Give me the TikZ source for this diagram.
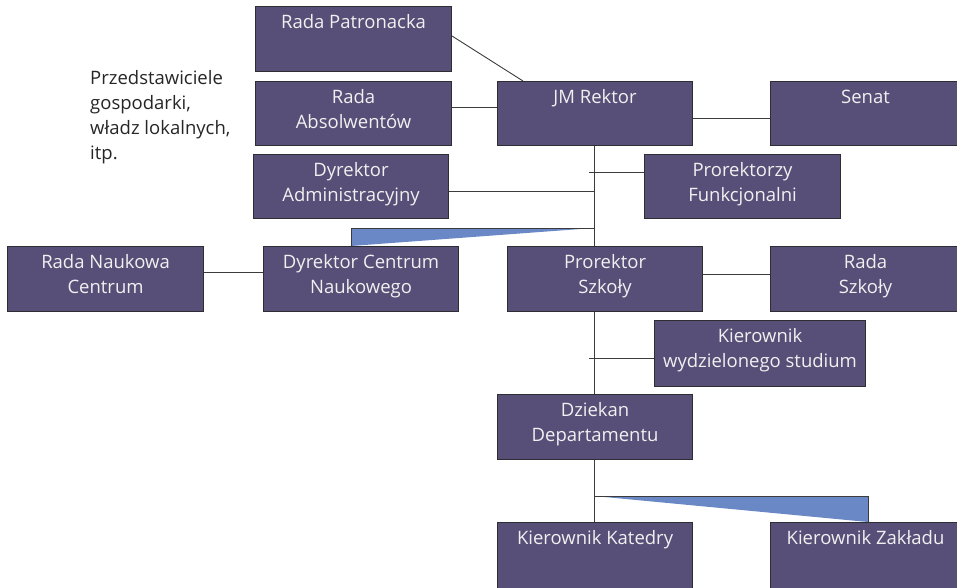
\documentclass[tikz,border=0pt]{standalone}
\usepackage{fontspec}
\setmainfont{Open Sans}
\usetikzlibrary{calc}
\definecolor{boxfill}{RGB}{87,79,119}
\definecolor{boxline}{RGB}{45,45,50}
\definecolor{wedge}{RGB}{106,136,198}
\definecolor{linkcol}{RGB}{60,60,60}
\begin{document}
\begin{tikzpicture}[x=1pt,y=-1pt,
  orgbox/.style={draw=boxline,fill=boxfill,line width=1.1pt,anchor=north west,inner sep=0pt},
  boxtxt/.style={anchor=north,align=center,text=white!94!black,inner sep=0pt,
     font=\fontsize{18.5}{25}\selectfont},
  link/.style={draw=linkcol,line width=0.9pt},
  note/.style={anchor=north west,align=left,inner sep=0pt,text=black!85,
     font=\fontsize{18.5}{25}\selectfont}]
\useasboundingbox (0,0) rectangle (957,588);

% wedge-shaped fills under the branching connectors
\coordinate (wedgeA) at (594,228);
\coordinate (wedgeAL) at (351,228);
\coordinate (wedgeB) at (594,496);
\coordinate (wedgeBR) at (868,496);
\fill[wedge] (wedgeA) -- (wedgeAL) -- (351,246) -- cycle;
\fill[wedge] (wedgeB) -- (wedgeBR) -- (868,522) -- cycle;

% box: name, top-left corner, width, height, text
\newcommand{\orgunit}[6]{%
  \node[orgbox,minimum width=#4pt,minimum height=#5pt] (#1) at (#2,#3) {};
  \node[boxtxt] (#1-t) at ([yshift=-8pt]#1.north) {\vphantom{Ah}#6};}

\orgunit{patron}{255}{6}{196}{65}{Rada Patronacka}
\orgunit{absol}{255}{81}{196}{64}{Rada\\Absolwentów}
\orgunit{rektor}{497}{81}{195}{64}{JM Rektor}
\orgunit{senat}{770}{81}{190}{64}{Senat}
\orgunit{dyradm}{253}{154}{195}{64}{Dyrektor\\Administracyjny}
\orgunit{prorf}{644}{154}{196}{64}{Prorektorzy\\Funkcjonalni}
\orgunit{radanc}{7}{246}{196}{65}{Rada Naukowa\\Centrum}
\orgunit{dyrcn}{263}{246}{195}{65}{Dyrektor Centrum\\Naukowego}
\orgunit{prors}{507}{246}{195}{65}{Prorektor\\Szkoły}
\orgunit{radasz}{770}{246}{190}{65}{Rada\\Szkoły}
\orgunit{kws}{654}{320}{211}{66}{Kierownik\\wydzielonego studium}
\orgunit{dziekan}{497}{394}{195}{65}{Dziekan\\Departamentu}
\orgunit{kkat}{497}{522}{195}{72}{Kierownik Katedry}
\orgunit{kzak}{770}{522}{190}{72}{Kierownik Zakładu}

\node[note] (przed) at (90,70) {\vphantom{Ah}Przedstawiciele\\gospodarki,\\władz lokalnych,\\itp.};

% main vertical line
\coordinate (trunk) at (594,0);
\draw[link] (trunk |- rektor.south) -- (trunk |- prors.north);
\draw[link] (trunk |- prors.south) -- (trunk |- dziekan.north);
\draw[link] (trunk |- dziekan.south) -- (trunk |- kkat.north);

% side branches (yshift is in page units: positive moves a line up)
\draw[link] ([yshift=3pt]patron.east) -- ($(rektor.north west)+(26,0)$);
\draw[link] ([yshift=6pt]absol.east) -- ([yshift=6pt]absol.east -| rektor.west);
\draw[link] ([yshift=-4.5pt]rektor.east) -- ([yshift=-4.5pt]rektor.east -| senat.west);
\draw[link] ([yshift=-5pt]dyradm.east) -- ([yshift=-5pt]dyradm.east -| trunk);
\draw[link] ([yshift=14pt]prorf.west) -- ++(-55,0);
\draw[link] ([yshift=7pt]radanc.east) -- ([yshift=7pt]radanc.east -| dyrcn.west);
\draw[link] ([yshift=5pt]prors.east) -- ([yshift=5pt]prors.east -| radasz.west);
\draw[link] ([yshift=-5pt]kws.west) -- ++(-65,0);
\draw[link] (wedgeA) -- (wedgeAL) -- (wedgeAL |- dyrcn.north);
\draw[link] (wedgeB) -- (wedgeBR) -- (wedgeBR |- kzak.north);
\end{tikzpicture}
\end{document}
